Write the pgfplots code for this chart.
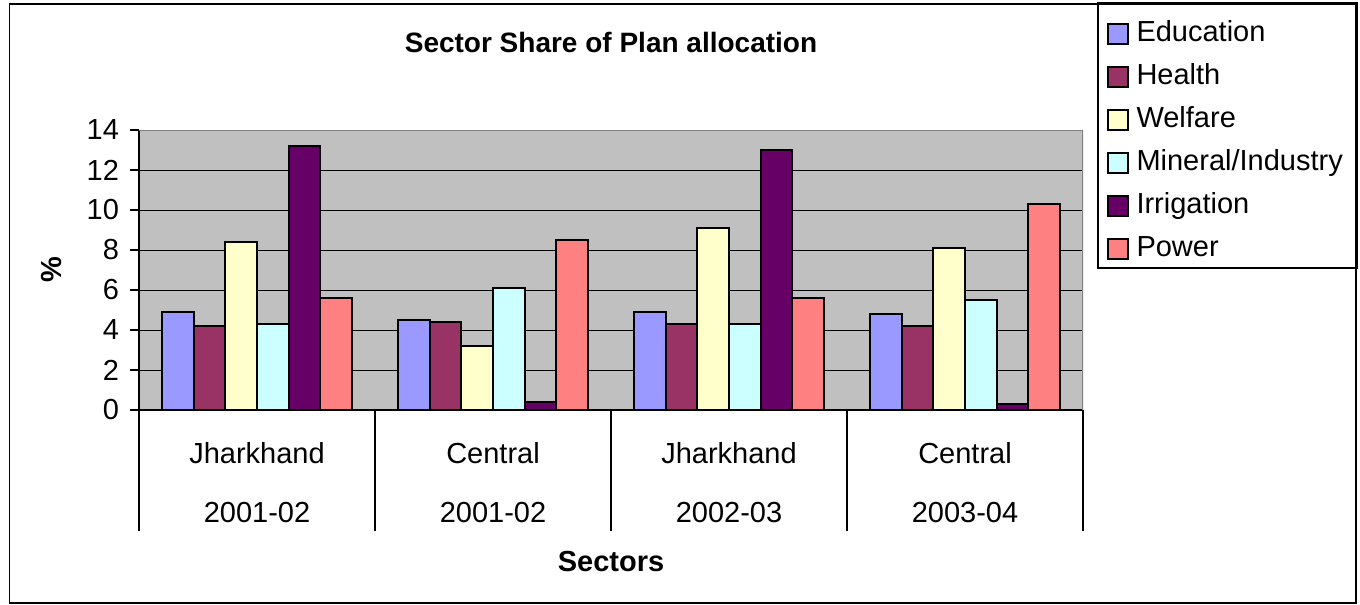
\documentclass[border=0pt]{standalone}
\usepackage{fontspec}
\setmainfont{Liberation Sans}
\usepackage{pgfplots}
\usepackage{pgfplotstable}
\pgfplotsset{compat=1.18}

\definecolor{cEdu}{RGB}{153,153,255}
\definecolor{cHea}{RGB}{153,51,102}
\definecolor{cWel}{RGB}{255,255,204}
\definecolor{cMin}{RGB}{204,255,255}
\definecolor{cIrr}{RGB}{102,0,102}
\definecolor{cPow}{RGB}{255,128,128}
\definecolor{plotgray}{RGB}{192,192,192}

% share of plan allocation, in percent
\pgfplotstableread{
x Education Health Welfare Mineral Irrigation Power
0 4.9 4.2 8.4 4.3 13.2 5.6
1 4.5 4.4 3.2 6.1 0.4 8.5
2 4.9 4.3 9.1 4.3 13.0 5.6
3 4.8 4.2 8.1 5.5 0.3 10.3
}\sectordata

\pgfplotsset{
  sq legend/.style={legend image code/.code={
    \draw[##1,draw=black,line width=1pt] (0pt,-5pt) rectangle (10pt,5pt);
    \path (12.5pt,0pt);}},
}

\begin{document}
\begin{tikzpicture}
\useasboundingbox (0,0) rectangle (680pt,-302.5pt);
\draw[black, line width=0.6pt] (4.75pt,-2pt) rectangle (678pt,-301.5pt);

\begin{axis}[
  at={(69.5pt,-205pt)}, anchor=south west,
  scale only axis, width=472pt, height=140pt,
  xmin=-0.5, xmax=3.5, ymin=0, ymax=14,
  ybar=0pt, bar width=0.134,
  axis x line*=bottom, axis y line*=left,
  axis line style={black, line width=0.6pt},
  axis background/.style={fill=plotgray},
  xtick={0,1,2,3},
  xticklabels={{Jharkhand\\2001-02},{Central\\2001-02},{Jharkhand\\2002-03},{Central\\2003-04}},
  minor xtick={-0.5,0.5,1.5,2.5,3.5},
  ytick={0,2,...,14},
  tick align=outside,
  major tick length=4.5pt,
  minor tick length=60.5pt,
  major x tick style={draw=none},
  minor x tick style={black, line width=0.6pt},
  y tick style={black, line width=0.6pt},
  ymajorgrids,
  major grid style={black, line width=0.5pt},
  tick label style={font=\fontsize{14.5}{16}\selectfont},
  /pgf/number format/assume math mode=true,
  xticklabel style={align=center, font=\fontsize{14.5}{29.5}\selectfont, anchor=north, yshift=-8pt},
  yticklabel style={anchor=east, xshift=-2pt},
  every axis plot/.append style={draw=black, line width=1.1pt},
  legend cell align=left,
  legend style={at={(1.0159,1.4446)}, anchor=north west, draw=none, fill=none,
    font=\fontsize{14.5}{16}\selectfont, row sep=5.5pt, inner xsep=4.5pt, inner ysep=6pt,
    nodes={inner sep=1pt, text height=11pt, text depth=3pt}},
]
\addplot[fill=cEdu, sq legend] table[x=x, y=Education] {\sectordata};
\addplot[fill=cHea, sq legend] table[x=x, y=Health] {\sectordata};
\addplot[fill=cWel, sq legend] table[x=x, y=Welfare] {\sectordata};
\addplot[fill=cMin, sq legend] table[x=x, y=Mineral] {\sectordata};
\addplot[fill=cIrr, sq legend] table[x=x, y=Irrigation] {\sectordata};
\addplot[fill=cPow, sq legend] table[x=x, y=Power] {\sectordata};
\legend{Education, Health, Welfare, Mineral/Industry, Irrigation, Power}
\draw[gray, line width=0.6pt] (rel axis cs:0,1) -- (rel axis cs:1,1) -- (rel axis cs:1,0);
\end{axis}

\draw[black, line width=0.6pt] (549pt,-1.5pt) rectangle (678.5pt,-134pt);
\node[font=\fontsize{14}{16}\selectfont\bfseries] at (305.5pt,-21pt) {Sector Share of Plan allocation};
\node[font=\fontsize{14.5}{16}\selectfont\bfseries] at (305.5pt,-281pt) {Sectors};
\node[font=\fontsize{14.5}{16}\selectfont\bfseries, rotate=90] at (26pt,-135pt) {\%};
\end{tikzpicture}
\end{document}
